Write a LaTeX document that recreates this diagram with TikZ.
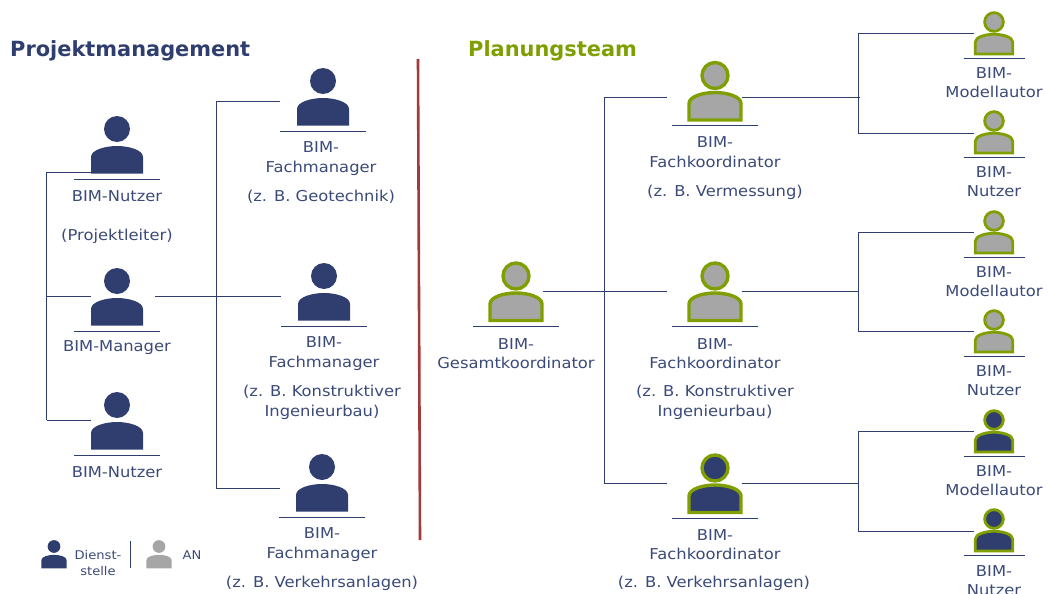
\documentclass[tikz,border=0pt]{standalone}
\usepackage{fontspec}
\setmainfont{DejaVu Sans}
\newfontfamily\widefont[FakeStretch=1.09]{DejaVu Sans}
\definecolor{navy}{HTML}{2F3E6E}
\definecolor{txt}{HTML}{3B4A78}
\definecolor{olive}{HTML}{7F9F00}
\definecolor{grayf}{HTML}{A6A6A6}
\definecolor{redl}{HTML}{A33A3A}
\newcommand{\person}[7]{% name, x, underline y, scale, fill, stroke, stroke width
  \node[iconbox,minimum width={53*#4pt}] (#1) at (#2,#3-34*#4) {};
  \begin{scope}[shift={(#2,#3)},xscale=#4,yscale=#4]
    \path[fill=#5,draw=#6,line width=#7] (0,-50) circle (13);
    \path[fill=#5,draw=#6,line width=#7,line join=miter] (-26,-5.5) -- (-26,-22) .. controls (-26,-29) and (-12,-33) .. (0,-33) .. controls (12,-33) and (26,-29) .. (26,-22) -- (26,-5.5) -- cycle;
  \end{scope}}
\newcommand{\ulbar}[3]{\draw[navy,line width=0.9pt] (#1-#3,#2) -- (#1+#3,#2);}
\tikzset{
  iconbox/.style={inner sep=0pt,outer sep=0pt,minimum height=60pt},
  lbl/.style={text=txt,font=\widefont\fontsize{15}{19.7}\selectfont,align=center,inner sep=0pt,yshift=-1pt},
  leg/.style={text=txt,font=\widefont\fontsize{12}{16}\selectfont,align=center,inner sep=0pt},
  ttl/.style={font=\fontsize{20.9}{24}\selectfont\bfseries,inner sep=0pt,anchor=west},
  wire/.style={navy,line width=0.8pt},
  wirethick/.style={navy,line width=1.2pt}
}
\begin{document}
\begin{tikzpicture}[x=1pt,y=-1pt]
\useasboundingbox (0,0) rectangle (1049,594);
\node[ttl,text=navy] (t1) at (10,51) {Projektmanagement};
\node[ttl,text=olive] (t2) at (468,51) {Planungsteam};
\coordinate (r1) at (418,59); \coordinate (r2) at (420,540);
\draw[redl,line width=2.6pt] (r1) -- (r2);

% Projektmanagement persons
\person{pa}{117}{179}{1}{navy}{none}{0pt}\ulbar{117}{179}{43}
\person{pb}{117}{331}{1}{navy}{none}{0pt}\ulbar{117}{331}{43}
\person{pc}{117}{455}{1}{navy}{none}{0pt}\ulbar{117}{455}{43}
\person{fa}{323}{131}{1}{navy}{none}{0pt}\ulbar{322.5}{131}{43}
\person{fb}{324}{326}{1}{navy}{none}{0pt}\ulbar{324}{326}{43}
\person{fc}{322}{517}{1}{navy}{none}{0pt}\ulbar{322}{517}{43}

% Planungsteam persons
\person{g}{516}{326}{1}{grayf}{olive}{3.4pt}\ulbar{516}{326}{43}
\person{ka}{715}{125.5}{1}{grayf}{olive}{3.4pt}\ulbar{715}{125.5}{43}
\person{kb}{715}{326}{1}{grayf}{olive}{3.4pt}\ulbar{715}{326}{43}
\person{kc}{715}{518}{1}{navy}{olive}{3.4pt}\ulbar{715}{518}{43}
\person{ma}{994}{58}{.72}{grayf}{olive}{2.8pt}\ulbar{994}{58}{30.5}
\person{na}{994}{157}{.72}{grayf}{olive}{2.8pt}\ulbar{994}{157}{30.5}
\person{mb}{994}{257}{.72}{grayf}{olive}{2.8pt}\ulbar{994}{257}{30.5}
\person{nb}{994}{356}{.72}{grayf}{olive}{2.8pt}\ulbar{994}{356}{30.5}
\person{mc}{994}{456}{.72}{navy}{olive}{2.8pt}\ulbar{994}{456}{30.5}
\person{nc}{994}{555}{.72}{navy}{olive}{2.8pt}\ulbar{994}{555}{30.5}

% junctions
\coordinate (j1a) at (46.5,172); \coordinate (j1b) at (46.5,296.5); \coordinate (j1c) at (46.5,420);
\coordinate (j2a) at (216,101); \coordinate (j2b) at (216,296.5); \coordinate (j2c) at (216,488);
\coordinate (j3a) at (604,97); \coordinate (j3b) at (604,291); \coordinate (j3c) at (604,483);
\coordinate (j4) at (858,97.5); \coordinate (j4a) at (858,33); \coordinate (j4b) at (858,133);
\coordinate (j5) at (858,291.5); \coordinate (j5a) at (858,232); \coordinate (j5b) at (858,331.5);
\coordinate (j6) at (858,483); \coordinate (j6a) at (858,431.5); \coordinate (j6b) at (858,531);

% left tree
\draw[wire] (j1a) -- (j1c);
\draw[wire] (j1a) -- (pa.west |- j1a);
\draw[wire] (j1b) -- (pb.west |- j1b);
\draw[wire] (j1c) -- (pc.west |- j1c);
\draw[wirethick] ([xshift=11.5pt]pb.east |- j2b) -- (j2b);
\draw[wire] (j2a) -- (j2c);
\draw[wire] (j2a) -- ([xshift=-17pt]fa.west |- j2a);
\draw[wire] (j2b) -- ([xshift=-17pt]fb.west |- j2b);
\draw[wire] (j2c) -- ([xshift=-16pt]fc.west |- j2c);

% right tree
\draw[wire] (j3a) -- (j3c);
\draw[wire] (g.east |- j3b) -- (j3b);
\draw[wire] (j3a) -- ([xshift=-21.5pt]ka.west |- j3a);
\draw[wire] (j3b) -- ([xshift=-21.5pt]kb.west |- j3b);
\draw[wire] (j3c) -- ([xshift=-21.5pt]kc.west |- j3c);

\draw[wirethick] (ka.east |- j4) -- ([xshift=2pt]j4);
\draw[wire] (j4a) -- (j4b);
\draw[wire] (j4a) -- ([xshift=-1pt]ma.west |- j4a);
\draw[wire] (j4b) -- ([xshift=-1pt]na.west |- j4b);
\draw[wire] (kb.east |- j5) -- (j5);
\draw[wire] (j5a) -- (j5b);
\draw[wire] (j5a) -- ([xshift=-1pt]mb.west |- j5a);
\draw[wire] (j5b) -- ([xshift=-1pt]nb.west |- j5b);
\draw[wire] (kc.east |- j6) -- (j6);
\draw[wire] (j6a) -- (j6b);
\draw[wire] (j6a) -- ([xshift=-1pt]mc.west |- j6a);
\draw[wire] (j6b) -- ([xshift=-1pt]nc.west |- j6b);

% labels left
\node[lbl] (lpa) at (117,195.5) {BIM-Nutzer};
\node[lbl] (lpa2) at (117,235) {(Projektleiter)};
\node[lbl] (lpb) at (117,347) {BIM-Manager};
\node[lbl] (lpc) at (117,471) {BIM-Nutzer};
\node[lbl] (lfa) at (321,157.5) {BIM-\\Fachmanager};
\node[lbl] (lfa2) at (321,195.5) {(z. B. Geotechnik)};
\node[lbl] (lfb) at (324,352.5) {BIM-\\Fachmanager};
\node[lbl] (lfb2) at (322,401.5) {(z. B. Konstruktiver\\Ingenieurbau)};
\node[lbl] (lfc) at (322,543.5) {BIM-\\Fachmanager};
\node[lbl] (lfc2) at (322,582.5) {(z. B. Verkehrsanlagen)};

% labels right
\node[lbl] (lg) at (516,352.5) {BIM-\\Gesamtkoordinator};
\node[lbl] (lka) at (715,151) {BIM-\\Fachkoordinator};
\node[lbl] (lka2) at (725,191) {(z. B. Vermessung)};
\node[lbl] (lkb) at (715,352.5) {BIM-\\Fachkoordinator};
\node[lbl] (lkb2) at (715,401.5) {(z. B. Konstruktiver\\Ingenieurbau)};
\node[lbl] (lkc) at (715,543.5) {BIM-\\Fachkoordinator};
\node[lbl] (lkc2) at (714,582) {(z. B. Verkehrsanlagen)};
\node[lbl] (lma) at (994,81.5) {BIM-\\Modellautor};
\node[lbl] (lna) at (994,180.5) {BIM-\\Nutzer};
\node[lbl] (lmb) at (994,280.5) {BIM-\\Modellautor};
\node[lbl] (lnb) at (994,379.5) {BIM-\\Nutzer};
\node[lbl] (lmc) at (994,479.5) {BIM-\\Modellautor};
\node[lbl] (lnc) at (994,579.5) {BIM-\\Nutzer};

% legend
\person{lega}{54}{571}{.49}{navy}{none}{0pt}
\person{legb}{159}{571}{.49}{grayf}{none}{0pt}
\node[leg] (ld) at (98,563) {Dienst-\\stelle};
\node[leg] (lan) at (192,555) {AN};
\coordinate (ls1) at (130.5,541); \coordinate (ls2) at (130.5,568);
\draw[wire] (ls1) -- (ls2);
\end{tikzpicture}
\end{document}
